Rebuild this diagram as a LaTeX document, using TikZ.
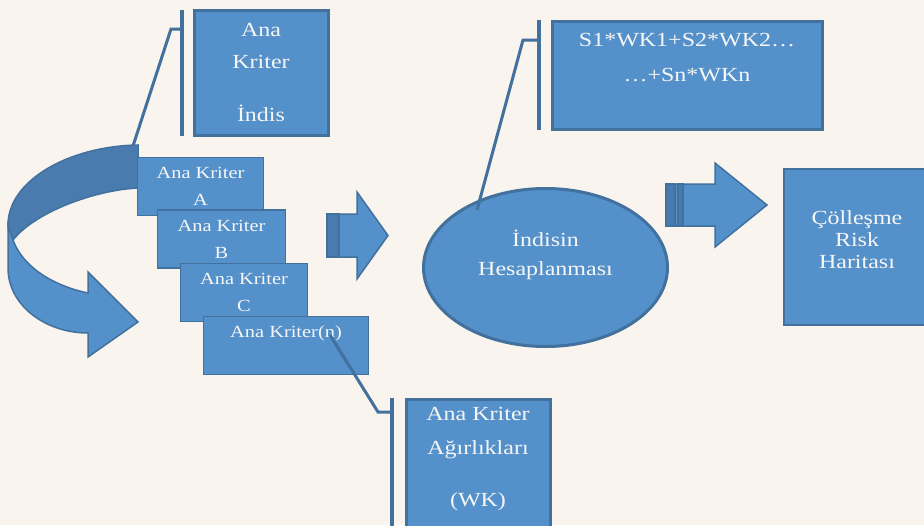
\documentclass[tikz,border=0pt]{standalone}
\usepackage{fontspec}
\setmainfont{Liberation Serif}[FakeStretch=1.2]
\usetikzlibrary{shapes.geometric}

\definecolor{paper}{HTML}{F9F4EE}
\definecolor{boxblue}{HTML}{5490CA}
\definecolor{edgeblue}{HTML}{41719C}
\definecolor{backblue}{HTML}{4A7BAF}
\definecolor{boxtext}{HTML}{F6F6F6}

\begin{document}
\begin{tikzpicture}[x=1pt, y=-1pt,
    % Kalin cerceveli kutular
    bigbox/.style={
        rectangle,
        draw=edgeblue,
        line width=3pt,
        fill=boxblue,
        text=boxtext,
        align=center,
        inner sep=0pt
    },
    % Ana kriter kutulari
    critbox/.style={
        rectangle,
        draw=edgeblue,
        line width=1.2pt,
        fill=boxblue,
        text=boxtext,
        align=center,
        inner sep=0pt,
        minimum height=58pt,
        font=\fontsize{17}{27}\selectfont
    },
    % Bloklu oklar
    blockarrow/.style={fill=boxblue, draw=edgeblue, line width=1.5pt, line join=miter},
    % Aciklama cizgileri
    calloutbar/.style={draw=edgeblue, line width=3.5pt},
    leader/.style={draw=edgeblue, line width=3pt},
    % Sadece metin
    lbl/.style={text=boxtext, align=center, inner sep=0pt}
]

% Arka plan
\clip (0,0) rectangle (924,525);
\fill[paper] (0,0) rectangle (924,525);

% Sol ust kutu: Ana Kriter Indis
\node[bigbox, minimum width=134pt, minimum height=125pt,
      font=\fontsize{20}{32}\selectfont] (indis) at (261,72.5)
      {Ana\\Kriter\\[21pt]İndis};
\coordinate (indisbar-top) at (182,10);
\coordinate (indisbar-bot) at (182,136);
\coordinate (indisbend) at (171,29);
\coordinate (indisbar-mid) at (182,29);
\coordinate (loopend) at (133,146);
\draw[calloutbar] (indisbar-top) -- (indisbar-bot);
\draw[leader] (indisbar-mid) -- (indisbend) -- (loopend);

% Donen ok (arka yuz)
\draw[blockarrow, fill=backblue] (138,145) .. controls (70,146) and (8,180) .. (8,225)
    .. controls (8,232) and (10,237) .. (13,240)
    .. controls (35,212) and (95,190) .. (138,188) -- cycle;
% Donen ok (on yuz)
\draw[blockarrow] (8,225) -- (8,268) .. controls (8,305) and (45,333) .. (88,333)
    -- (88,357) -- (138,322) -- (88,272) -- (88,293)
    .. controls (50,285) and (22,265) .. (13,240) -- cycle;

% Ana kriter kutulari (ust uste)
\node[critbox, minimum width=126pt] (kritA) at (200.5,186.5) {Ana Kriter\\A};
\node[critbox, minimum width=128pt] (kritB) at (221.5,239) {Ana Kriter\\B};
\node[critbox, minimum width=127pt] (kritC) at (244,292.5) {Ana Kriter\\C};
\node[critbox, minimum width=165pt] (kritN) at (286,345.5) {Ana Kriter(n)\\\mbox{}};

% Ok 1
\draw[blockarrow] (327,214) -- (357,214) -- (357,192) -- (388,235.5)
    -- (357,279) -- (357,257) -- (327,257) -- cycle;
\draw[blockarrow, fill=backblue] (327,214) rectangle (339,257);

% Indisin hesaplanmasi
\node[ellipse, draw=edgeblue, line width=3pt, fill=boxblue, text=boxtext,
      align=center, inner sep=0pt, minimum width=244pt, minimum height=158pt,
      font=\fontsize{20}{29}\selectfont] (hesap) at (545.5,267.5)
      {İndisin\\Hesaplanması\\\mbox{}};

% Formul kutusu
\node[bigbox, minimum width=270pt, minimum height=108pt,
      font=\fontsize{20}{35}\selectfont] (formul) at (687,75)
      {S1*WK1+S2*WK2…\\…+Sn*WKn\\\mbox{}};
\coordinate (formulbar-top) at (539,20);
\coordinate (formulbar-bot) at (539,130);
\coordinate (formulbar-mid) at (539,40);
\coordinate (formulbend) at (523,40);
\coordinate (hesapin) at (477,210);
\draw[calloutbar] (formulbar-top) -- (formulbar-bot);
\draw[leader] (formulbar-mid) -- (formulbend) -- (hesapin);

% Ok 2
\draw[blockarrow] (666,184) -- (715,184) -- (715,163) -- (767,205)
    -- (715,247) -- (715,226) -- (666,226) -- cycle;
\draw[blockarrow, fill=backblue] (666,184) rectangle (675,226);
\draw[blockarrow, fill=backblue] (678,184) rectangle (683,226);

% Colesme risk haritasi
\node[rectangle, draw=edgeblue, line width=1.5pt, fill=boxblue,
      minimum width=156pt, minimum height=156pt] (harita) at (862,247) {};
\node[lbl, font=\fontsize{20}{22}\selectfont] (haritayazi) at (857,240)
      {Çölleşme\\Risk\\Haritası};

% Ana kriter agirliklari
\node[bigbox, minimum width=144pt, minimum height=161pt] (agirlik) at (478,479.5) {};
\node[lbl, font=\fontsize{20}{34}\selectfont] (agirlikyazi) at (478,459)
      {Ana Kriter\\Ağırlıkları\\[18pt](WK)};
\coordinate (agirlikbar-top) at (392,398);
\coordinate (agirlikbar-bot) at (392,530);
\coordinate (agirlikbar-mid) at (392,412);
\coordinate (agirlikbend) at (378,412);
\coordinate (kritNin) at (330,335);
\draw[calloutbar] (agirlikbar-top) -- (agirlikbar-bot);
\draw[leader] (agirlikbar-mid) -- (agirlikbend) -- (kritNin);

\end{tikzpicture}
\end{document}
